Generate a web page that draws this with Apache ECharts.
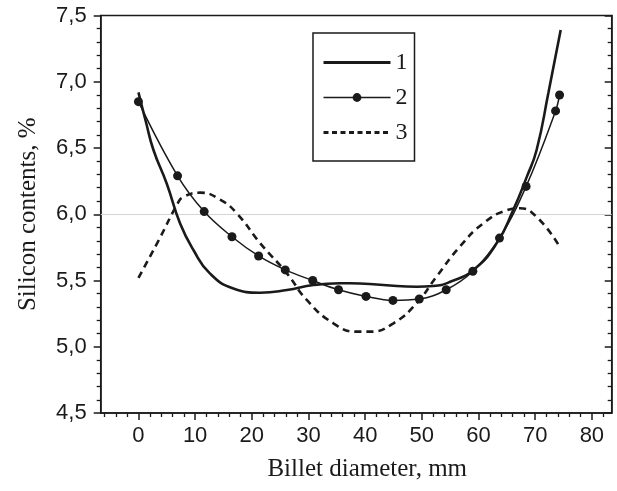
<!DOCTYPE html>
<html><head><meta charset="utf-8">
<script src="https://cdn.jsdelivr.net/npm/echarts@6/dist/echarts.min.js"></script>
<style>html,body{margin:0;padding:0;background:#fff}#c{width:617px;height:491px}</style>
</head><body><div id="c"></div>
<script>
// Tick labels
const xTickValues = [0, 10, 20, 30, 40, 50, 60, 70, 80];
const xMinorTickValues = [-6, -4, -2, 2, 4, 6, 8, 12, 14, 16, 18, 22, 24, 26, 28, 32, 34, 36, 38, 42, 44, 46, 48, 52, 54, 56, 58, 62, 64, 66, 68, 72, 74, 76, 78, 82];
const yTickValues = [4.5, 5.0, 5.5, 6.0, 6.5, 7.0, 7.5];

// Series 1 (solid curve)
const s1X = [0, 1.3, 2.65, 5.0, 7.35, 9.7, 12.6, 16.75, 21.5, 26.2, 30.9, 35.6, 37.3, 43.2, 49.1, 52.0, 55.0, 59.1, 63.2, 66.1, 68.5, 70.25, 72.35, 74.5];
const s1Y = [6.92, 6.70, 6.485, 6.23, 5.93, 5.73, 5.554, 5.44, 5.408, 5.428, 5.466, 5.479, 5.479, 5.466, 5.453, 5.458, 5.49, 5.58, 5.78, 6.03, 6.28, 6.485, 6.92, 7.39];

// Series 2 (line with dots)
const s2X = [0, 6.9, 11.6, 16.5, 21.2, 25.9, 30.75, 35.3, 40.15, 44.9, 49.55, 54.3, 59.0, 63.7, 68.4, 73.6, 74.3];
const s2Y = [6.85, 6.29, 6.02, 5.83, 5.685, 5.58, 5.50, 5.43, 5.38, 5.35, 5.36, 5.43, 5.57, 5.82, 6.21, 6.78, 6.90];

// Series 3 (dashed curve)
const s3X = [0, 3.65, 6.9, 7.9, 10.9, 14.4, 17.35, 21.5, 26.2, 29.7, 34.4, 38.5, 40.9, 45.0, 49.1, 52.6, 56.7, 60.8, 65.0, 67.3, 70.25, 74.1];
const s3Y = [5.52, 5.81, 6.08, 6.13, 6.163, 6.11, 6.007, 5.78, 5.554, 5.353, 5.177, 5.114, 5.114, 5.177, 5.33, 5.53, 5.755, 5.93, 6.03, 6.045, 5.98, 5.77];

const zip = (xs, ys) => xs.map((x, i) => [x, ys[i]]);
const ink = '#1a1a1a';

const chart = echarts.init(document.getElementById('c'), null, {renderer: 'canvas'});
chart.setOption({
  backgroundColor: '#ffffff',
  animation: false,
  grid: {left: 100.7, right: 5.3, top: 15.5, bottom: 78, show: true, borderColor: ink, borderWidth: 1.5, backgroundColor: 'transparent'},
  legend: {
    orient: 'vertical', left: 313, top: 33,
    itemWidth: 67, itemHeight: 11, itemGap: 10,
    padding: [17, 7, 16, 9],
    borderColor: ink, borderWidth: 1.5, backgroundColor: '#fff',
    selectedMode: false,
    textStyle: {fontFamily: 'Liberation Serif', fontSize: 24, color: ink, lineHeight: 25},
    data: [
      {name: '1', itemStyle: {opacity: 0}, lineStyle: {width: 3}},
      {name: '2', lineStyle: {width: 1.6}},
      {name: '3', itemStyle: {opacity: 0}, lineStyle: {width: 2.8, type: [5, 3.5]}}
    ]
  },
  xAxis: [{
    type: 'value', min: -6.66, max: 83.5, position: 'bottom',
    axisLine: {show: true, onZero: false, lineStyle: {color: ink, width: 1.5}},
    axisTick: {show: true, customValues: xTickValues, length: 7, lineStyle: {color: ink, width: 1.5}},
    axisLabel: {customValues: xTickValues, margin: 12, fontFamily: 'Liberation Sans', fontSize: 22, color: ink},
    splitLine: {show: false},
    name: 'Billet diameter, mm', nameLocation: 'middle', nameGap: 44,
    nameTextStyle: {fontFamily: 'Liberation Serif', fontSize: 25, color: ink, padding: [0, 0, 0, 22]}
  }, {
    type: 'value', min: -6.66, max: 83.5, position: 'bottom', offset: 0,
    axisLine: {show: false, onZero: false},
    axisTick: {show: true, customValues: xMinorTickValues, length: 4, lineStyle: {color: ink, width: 1.3}},
    axisLabel: {show: false},
    splitLine: {show: false}
  }],
  yAxis: [{
    type: 'value', min: 4.5, max: 7.5, interval: 0.5, position: 'left',
    axisLine: {show: true, onZero: false, lineStyle: {color: ink, width: 1.5}},
    axisTick: {show: true, length: 7, lineStyle: {color: ink, width: 1.5}},
    minorTick: {show: true, splitNumber: 5, length: 4, lineStyle: {color: ink, width: 1.3}},
    axisLabel: {margin: 14, fontFamily: 'Liberation Sans', fontSize: 22, color: ink,
      formatter: v => v.toFixed(1).replace('.', ',')},
    splitLine: {show: false}, minorSplitLine: {show: false},
    name: 'Silicon contents, %', nameLocation: 'middle', nameGap: 60, nameRotate: 90,
    nameTextStyle: {fontFamily: 'Liberation Serif', fontSize: 25, color: ink}
  }, {
    type: 'value', min: 4.5, max: 7.5, interval: 0.5, position: 'right',
    axisLine: {show: true, onZero: false, lineStyle: {color: ink, width: 1.5}},
    axisTick: {show: true, inside: true, length: 7, lineStyle: {color: ink, width: 1.5}},
    minorTick: {show: true, splitNumber: 5, length: 4, lineStyle: {color: ink, width: 1.3}},
    axisLabel: {show: false},
    splitLine: {show: false}, minorSplitLine: {show: false}
  }],
  series: [{
    name: '1', type: 'line', smooth: true, symbol: 'none',
    lineStyle: {color: ink, width: 2.6},
    itemStyle: {color: ink},
    data: zip(s1X, s1Y),
    markLine: {silent: true, symbol: 'none', label: {show: false}, z: 1,
      lineStyle: {color: '#d4d4d4', type: 'solid', width: 1},
      data: [{yAxis: 6.0}]}
  }, {
    name: '2', type: 'line', smooth: 0.4, symbol: 'circle', symbolSize: 9,
    lineStyle: {color: ink, width: 1.5},
    itemStyle: {color: ink},
    data: zip(s2X, s2Y)
  }, {
    name: '3', type: 'line', smooth: true, symbol: 'none',
    lineStyle: {color: ink, width: 2.6, type: [7, 5]},
    itemStyle: {color: ink},
    data: zip(s3X, s3Y)
  }]
});
</script>
</body></html>
